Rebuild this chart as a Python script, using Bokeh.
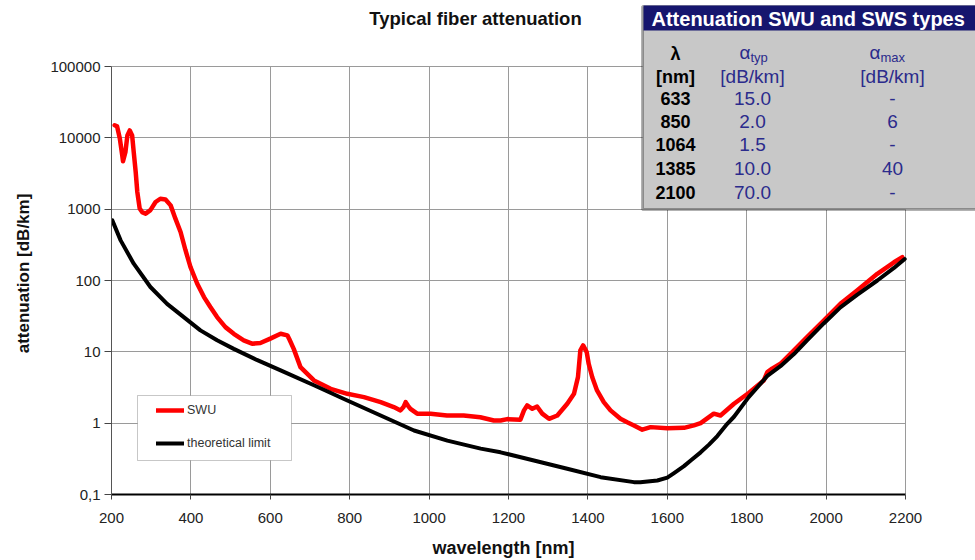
import math
from bokeh.plotting import figure
from bokeh.models import FixedTicker, Label, BoxAnnotation, Legend, LegendItem
from bokeh.embed import file_html
from bokeh.resources import INLINE

# ---------------- data ----------------
wl_swu = [208, 214, 221, 227, 229, 235, 240, 246, 252, 256, 261, 265, 271, 277, 286,
          298, 311, 323, 336, 349, 361, 374, 386, 399, 416, 433, 449, 466, 487, 508,
          533, 554, 575, 600, 626, 643, 648, 659, 676, 710, 752, 794, 836, 878, 911,
          928, 936, 941, 947, 953, 970, 1004, 1045, 1087, 1129, 1163, 1180, 1197, 1230,
          1239, 1247, 1260, 1272, 1285, 1302, 1323, 1348, 1365, 1375, 1381, 1388, 1397,
          1402, 1411, 1423, 1440, 1457, 1482, 1499, 1516, 1537, 1558, 1600, 1642, 1667,
          1684, 1717, 1734, 1768, 1805, 1843, 1852, 1864, 1885, 1919, 1952, 1994, 2036,
          2078, 2129, 2171, 2192]
att_swu = [15000, 14500, 9750, 5700, 4700, 6300, 10800, 12700, 10800, 6300, 3300, 1740,
           1020, 910, 865, 970, 1260, 1400, 1370, 1130, 736, 478, 270, 154, 90, 58.5, 42.4,
           30.7, 22.2, 17.9, 14.5, 13.0, 13.3, 15.3, 17.9, 17.0, 15.0, 11.0, 6.1, 3.97,
           3.03, 2.58, 2.32, 1.97, 1.68, 1.51, 1.7, 1.97, 1.75, 1.59, 1.36, 1.36, 1.28,
           1.28, 1.21, 1.09, 1.09, 1.14, 1.12, 1.51, 1.77, 1.59, 1.71, 1.36, 1.15, 1.28,
           1.87, 2.58, 4.42, 10.5, 12.3, 9.9, 6.8, 4.4, 2.88, 1.97, 1.51, 1.15, 1.03, 0.93,
           0.81, 0.88, 0.85, 0.86, 0.93, 1.0, 1.36, 1.28, 1.87, 2.65, 3.97, 5.2, 5.8, 6.8,
           10.5, 16.1, 27.5, 47.2, 72.6, 124, 180, 212]

wl_limit = [202, 223, 256, 298, 340, 382, 424, 466, 508, 566, 626, 710, 794, 878, 962,
            1046, 1130, 1180, 1264, 1348, 1432, 1516, 1532, 1575, 1600, 1617, 1642, 1659,
            1684, 1705, 1726, 1751, 1768, 1805, 1852, 1885, 1919, 1952, 1994, 2036, 2078,
            2129, 2171, 2198]
att_limit = [697, 365, 172, 81, 47, 30.7, 20, 14.5, 11, 7.7, 5.5, 3.4, 2.08, 1.28, 0.79,
             0.57, 0.44, 0.39, 0.30, 0.23, 0.175, 0.149, 0.148, 0.157, 0.172, 0.20, 0.25,
             0.30, 0.39, 0.50, 0.66, 0.98, 1.23, 2.32, 4.6, 6.3, 9.3, 14.5, 25, 42, 63,
             100, 150, 200]

series_names = ["SWU", "theoretical limit"]

x_ticks = [200, 400, 600, 800, 1000, 1200, 1400, 1600, 1800, 2000, 2200]
y_ticks = [0.1, 1, 10, 100, 1000, 10000, 100000]
y_tick_labels = ["0,1", "1", "10", "100", "1000", "10000", "100000"]

title_text = "Typical fiber attenuation"
x_label_text = "wavelength [nm]"
y_label_text = "attenuation [dB/km]"

table_title = "Attenuation SWU and SWS types"
table_head_sym = ["\u03bb", "\u03b1", "\u03b1"]
table_head_sub = ["", "typ", "max"]
table_head_units = ["[nm]", "[dB/km]", "[dB/km]"]
table_wl = ["633", "850", "1064", "1385", "2100"]
table_typ = ["15.0", "2.0", "1.5", "10.0", "70.0"]
table_max = ["-", "6", "-", "40", "-"]

# ---------------- layout ----------------
W, H = 975, 560
AX_L, AX_R, AX_T, AX_B = 111, 905, 66, 494     # chart box (pixels)
X0, X1 = x_ticks[0], x_ticks[-1]
Y0, Y1 = y_ticks[0], y_ticks[-1]
# frame spans from the chart's left/bottom edges to the top/right canvas edges so
# that the table and title (drawn as annotations) are not clipped
px_per_x = (AX_R - AX_L) / (X1 - X0)
px_per_dec = (AX_B - AX_T) / (math.log10(Y1) - math.log10(Y0))
x_end = X0 + (W - AX_L) / px_per_x
y_end = 10 ** (math.log10(Y0) + AX_B / px_per_dec)

FONT = "Liberation Sans"
NAVY = "#16166e"
BLUE = "#2b2b8c"
GRID = "#9a9a9a"
NBSP = "\u00a0"


def fx(px):  # picture x -> frame-relative screen x
    return px - AX_L


def fy(py):  # picture y -> frame-relative screen y (upwards)
    return AX_B - py


p = figure(width=W, height=H, x_range=(X0, x_end), y_range=(Y0, y_end),
           y_axis_type="log", output_backend="svg", toolbar_location=None, title=None,
           min_border_left=AX_L, min_border_top=0, min_border_right=0,
           min_border_bottom=H - AX_B)
p.background_fill_color = "white"
p.border_fill_color = "white"
p.outline_line_color = None

p.xaxis.ticker = FixedTicker(ticks=x_ticks)
p.yaxis.ticker = FixedTicker(ticks=y_ticks)
p.xaxis.bounds = (X0, X1)
p.yaxis.bounds = (Y0, Y1)
p.xgrid.ticker = FixedTicker(ticks=x_ticks)
p.ygrid.ticker = FixedTicker(ticks=y_ticks)
p.xgrid.cross_bounds = (Y0, Y1)
p.ygrid.cross_bounds = (X0, X1)
p.yaxis.major_label_overrides = {t: l for t, l in zip(y_ticks, y_tick_labels)}
for g in (p.xgrid, p.ygrid):
    g.grid_line_color = GRID
    g.grid_line_width = 1
    g.grid_line_alpha = 1

for ax in (p.xaxis, p.yaxis):
    ax.minor_tick_line_color = None
    ax.major_tick_in = 0
    ax.major_tick_line_color = "#444444"
    ax.major_label_text_font = FONT
    ax.major_label_text_font_size = "15px"
    ax.major_label_text_color = "#222222"
    ax.axis_label_text_font = FONT
    ax.axis_label_text_font_style = "bold"
    ax.axis_label_text_color = "#111111"
p.xaxis.axis_line_color = "black"
p.xaxis.axis_line_width = 2
p.xaxis.major_tick_out = 5
p.xaxis.major_label_standoff = 13
# the axis label is centred on the (wider) frame: trailing no-break spaces move the
# visible words back over the chart's centre
p.xaxis.axis_label = x_label_text + NBSP * 16
p.xaxis.axis_label_text_font_size = "18px"
p.xaxis.axis_label_standoff = 12
p.yaxis.axis_line_color = "#555555"
p.yaxis.axis_line_width = 1
p.yaxis.major_tick_out = 7
p.yaxis.major_label_standoff = 4
p.yaxis.axis_label = y_label_text + NBSP * 11
p.yaxis.axis_label_text_font_size = "17px"
p.yaxis.axis_label_standoff = 14

r_swu = p.line(wl_swu, att_swu, line_color="#ff0000", line_width=4.5, line_join="round",
               line_cap="round")
r_lim = p.line(wl_limit, att_limit, line_color="black", line_width=4, line_join="round",
               line_cap="round")


def lab(text, px, py, size, color="black", bold=False, align="center", angle=0.0,
        baseline="middle"):
    p.add_layout(Label(x=fx(px), y=fy(py), x_units="screen", y_units="screen", text=text,
                       text_font=FONT, text_font_size=size, text_color=color,
                       text_font_style="bold" if bold else "normal", text_align=align,
                       text_baseline=baseline, angle=angle))


def box(l, r, t, b, **kw):
    p.add_layout(BoxAnnotation(left=fx(l), right=fx(r), top=fy(t), bottom=fy(b),
                               left_units="screen", right_units="screen",
                               top_units="screen", bottom_units="screen",
                               fill_alpha=1, **kw))


# title
lab(title_text, 475, 18, "18.5px", "#111111", True)

# legend (frame + items)
box(137, 291, 395, 460, fill_color="white", line_color="#444444", line_width=1)
legend = Legend(items=[LegendItem(label=series_names[0], renderers=[r_swu]),
                       LegendItem(label=series_names[1], renderers=[r_lim])],
                location=(fx(156), fy(443) - 10), padding=0, spacing=13, margin=0,
                glyph_width=28, glyph_height=20, label_height=20, label_standoff=3,
                label_text_font=FONT, label_text_font_size="12.5px",
                label_text_color="#333333", border_line_color=None,
                background_fill_alpha=0)
p.add_layout(legend)

# table
box(642, 1000, 6, 209, fill_color="#c8c8c8", line_color="black", line_width=3)
box(643, 1000, 5, 30, fill_color=NAVY, line_color=None)
lab(table_title, 651, 18, "20px", "white", True, align="left")

col_x = [675, 752, 892]
sub_x = [None, 750, 880]
lab(table_head_sym[0], col_x[0], 53, "18px", "black", True)
for i in (1, 2):
    lab(table_head_sym[i], sub_x[i], 52, "19px", BLUE, False, align="right")
    lab(table_head_sub[i], sub_x[i], 57, "13px", BLUE, False, align="left")
lab(table_head_units[0], col_x[0], 76, "18px", "black", True)
lab(table_head_units[1], col_x[1], 76, "19px", BLUE)
lab(table_head_units[2], col_x[2], 76, "19px", BLUE)

row_y = [98, 121, 144, 168, 192]
for ry, a, b, c in zip(row_y, table_wl, table_typ, table_max):
    lab(a, col_x[0], ry, "18px", "black", True)
    lab(b, col_x[1], ry, "19px", BLUE)
    lab(c, col_x[2], ry, "19px", BLUE)

open("out.html", "w").write(file_html(p, INLINE))
